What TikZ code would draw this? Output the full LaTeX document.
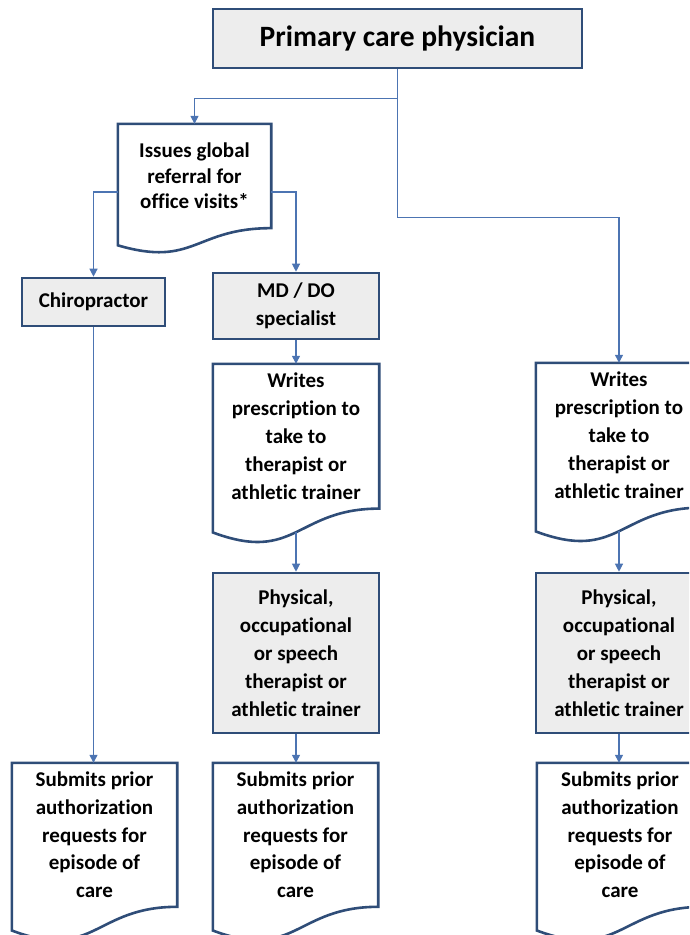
\documentclass[tikz,border=0pt]{standalone}
\usepackage{fontspec}
\setmainfont{Carlito}[Ligatures=NoCommon]
\usetikzlibrary{calc,arrows.meta}
\definecolor{bordc}{HTML}{2F4D78}
\definecolor{connc}{HTML}{4C74B2}
\definecolor{boxfill}{HTML}{EDEDED}
\newcommand\docoutline[1]{%
 \draw[boxline] let \p1=(#1.north west), \p2=(#1.south east), \n1={\y1-\y2} in
  (\p1) -- (\x2,\y1) -- (\p2) .. controls ({0.5*\x1+0.5*\x2},\y2) and ({0.5*\x1+0.5*\x2},{\y1-1.380*\n1}) .. (\x1,{\y1-1.1646*\n1}) -- cycle
  ({0.5*\x1+0.5*\x2},{\y1-1.163*\n1}) coordinate (#1-b);}
\begin{document}
\begin{tikzpicture}[x=1pt,y=1pt,
  boxline/.style={draw=bordc,line width=2.6pt,line join=miter},
  graybox/.style={boxline,fill=boxfill,inner sep=0pt,align=center,font=\bfseries\fontsize{21}{27.5}\selectfont},
  docbox/.style={inner sep=0pt,align=center,font=\bfseries\fontsize{21}{27.8}\selectfont},
  conn/.style={draw=connc,line width=1.2pt,-{Triangle[width=8pt,length=8pt]}}]
\useasboundingbox (0,0) rectangle (689,-935);
\clip (0,0) rectangle (689,-935);
% top
\node[graybox,minimum width=369,minimum height=59,font=\bfseries\fontsize{29.5}{34}\selectfont] (pcp) at (397.5,-38.5) {Primary care physician};
% issues
\node[docbox,minimum width=153,minimum height=103.9,font=\bfseries\fontsize{21}{25.5}\selectfont] (iss) at (194.5,-176) {Issues global\\referral for\\office visits*};
\docoutline{iss}
% left column
\node[graybox,minimum width=143,minimum height=48] (chiro) at (93.5,-302) {Chiropractor};
\node[docbox,minimum width=165,minimum height=143.6] (s0) at (94.5,-834.8) {Submits prior\\authorization\\requests for\\episode of\\care};
\docoutline{s0}
% middle column
\node[graybox,minimum width=166,minimum height=66] (mddo) at (296,-306) {MD / DO\\specialist};
\node[docbox,minimum width=166,minimum height=144.4] (w1) at (296,-436.2) {Writes\\prescription to\\take to\\therapist or\\athletic trainer};
\docoutline{w1}
\node[graybox,minimum width=166,minimum height=160,font=\bfseries\fontsize{21}{28}\selectfont] (p1) at (296,-653) {Physical,\\occupational\\or speech\\therapist or\\athletic trainer};
\node[docbox,minimum width=165,minimum height=143.6] (s1) at (295.5,-834.8) {Submits prior\\authorization\\requests for\\episode of\\care};
\docoutline{s1}
% right column
\node[docbox,minimum width=166,minimum height=144.4] (w2) at (619,-435.2) {Writes\\prescription to\\take to\\therapist or\\athletic trainer};
\docoutline{w2}
\node[graybox,minimum width=166,minimum height=160,font=\bfseries\fontsize{21}{28}\selectfont] (p2) at (619,-653) {Physical,\\occupational\\or speech\\therapist or\\athletic trainer};
\node[docbox,minimum width=166,minimum height=143.6] (s2) at (620,-834.8) {Submits prior\\authorization\\requests for\\episode of\\care};
\docoutline{s2}
% connectors
\draw[conn] (pcp.south) -- ++(0,-29) -| (iss.north);
\draw[conn] (pcp.south) -- ++(0,-148) -| (w2.north);
\draw[conn] ([yshift=-16pt]iss.west) -| (chiro.north);
\draw[conn] ([yshift=-16pt]iss.east) -| (mddo.north);
\draw[conn] (chiro.south) -- (chiro.south |- s0.north);
\draw[conn] (mddo.south) -- (w1.north);
\draw[conn] (w1-b) -- (w1-b |- p1.north);
\draw[conn] (p1.south) -- (p1.south |- s1.north);
\draw[conn] (w2-b) -- (w2-b |- p2.north);
\draw[conn] (p2.south) -- (p2.south |- s2.north);
\end{tikzpicture}
\end{document}
